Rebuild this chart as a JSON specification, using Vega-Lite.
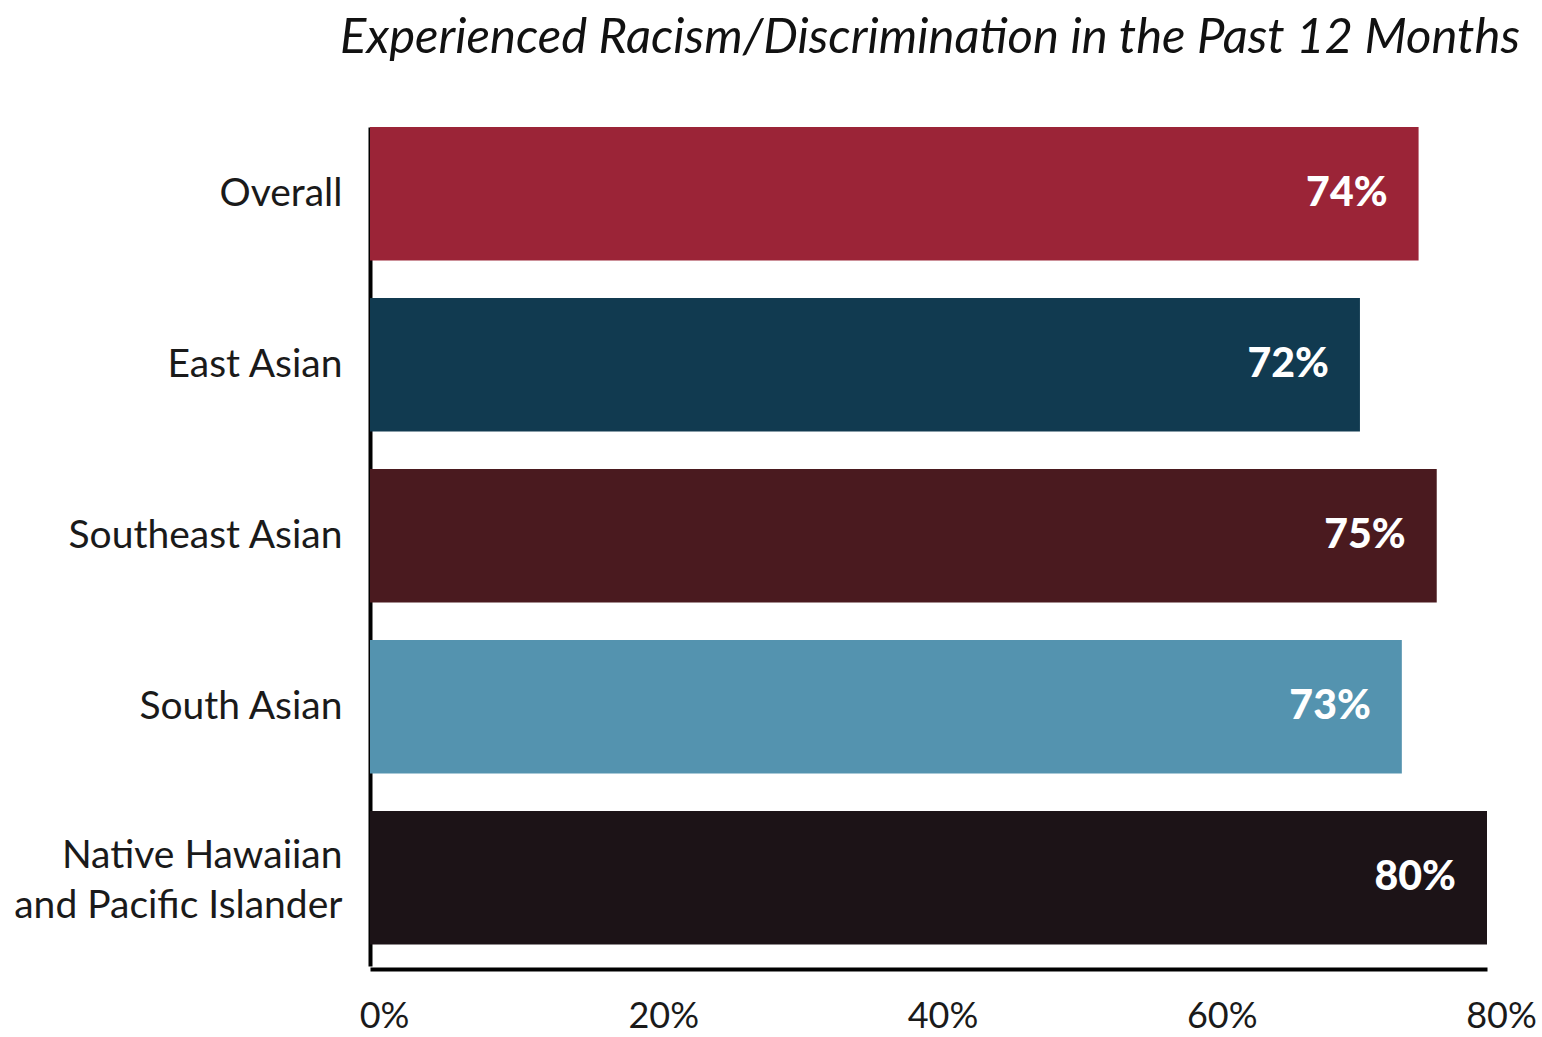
{
  "$schema": "https://vega.github.io/schema/vega-lite/v6.json",
  "autosize": "none",
  "width": 1117,
  "height": 839,
  "padding": {"left": 370, "top": 127, "right": 55, "bottom": 71},
  "background": "white",
  "title": {
    "text": "Experienced Racism/Discrimination in the Past 12 Months",
    "anchor": "end",
    "frame": "group",
    "font": "Lato",
    "fontStyle": "italic",
    "fontWeight": "normal",
    "fontSize": 49,
    "color": "#111111",
    "dx": 33,
    "offset": 64
  },
  "data": {
    "values": [
      {"group": "Overall", "value": 75.1, "label": "74%"},
      {"group": "East Asian", "value": 70.9, "label": "72%"},
      {"group": "Southeast Asian", "value": 76.4, "label": "75%"},
      {"group": "South Asian", "value": 73.9, "label": "73%"},
      {"group": "Native Hawaiian and Pacific Islander", "value": 80, "label": "80%"}
    ]
  },
  "encoding": {
    "y": {
      "field": "group",
      "type": "nominal",
      "sort": null,
      "scale": {"paddingInner": 0.22, "paddingOuter": 0.063, "align": 0},
      "axis": {
        "title": null,
        "ticks": false,
        "domainColor": "black",
        "domainWidth": 4,
        "labelFont": "Lato",
        "labelFontSize": 39,
        "labelColor": "#1a1a1a",
        "labelPadding": 28,
        "labelLimit": 400,
        "labelLineHeight": 50,
        "labelBaseline": "middle",
        "labelOffset": {"condition": {"test": "datum.value == 'Native Hawaiian and Pacific Islander'", "value": -22}, "value": 0},
        "labelExpr": "datum.value == 'Native Hawaiian and Pacific Islander' ? ['Native Hawaiian', 'and Pacific Islander'] : datum.value == 'South Asian' ? 'South Asian  ' : datum.value"
      }
    },
    "x": {
      "field": "value",
      "type": "quantitative",
      "scale": {"domain": [0, 80], "nice": false},
      "axis": {
        "title": null,
        "values": [0, 20, 40, 60, 80],
        "labelExpr": "datum.value + '%'",
        "grid": false,
        "ticks": false,
        "domainColor": "black",
        "domainWidth": 4,
        "offset": 3,
        "labelFont": "Lato",
        "labelFontSize": 36,
        "labelColor": "#1a1a1a",
        "labelPadding": 30,
        "labelOffset": 14,
        "labelFlush": false
      }
    }
  },
  "layer": [
    {
      "mark": {"type": "bar", "cornerRadius": 0},
      "encoding": {
        "color": {
          "field": "group",
          "type": "nominal",
          "legend": null,
          "scale": {
            "domain": ["Overall", "East Asian", "Southeast Asian", "South Asian", "Native Hawaiian and Pacific Islander"],
            "range": ["#9B2437", "#113A50", "#4A1A1F", "#5493AF", "#1C1317"]
          }
        }
      }
    },
    {
      "mark": {
        "type": "text",
        "align": "right",
        "baseline": "middle",
        "dx": -31,
        "font": "Lato",
        "fontWeight": 900,
        "fontSize": 41,
        "color": "white"
      },
      "encoding": {"text": {"field": "label"}}
    }
  ],
  "config": {"view": {"stroke": null}}
}
